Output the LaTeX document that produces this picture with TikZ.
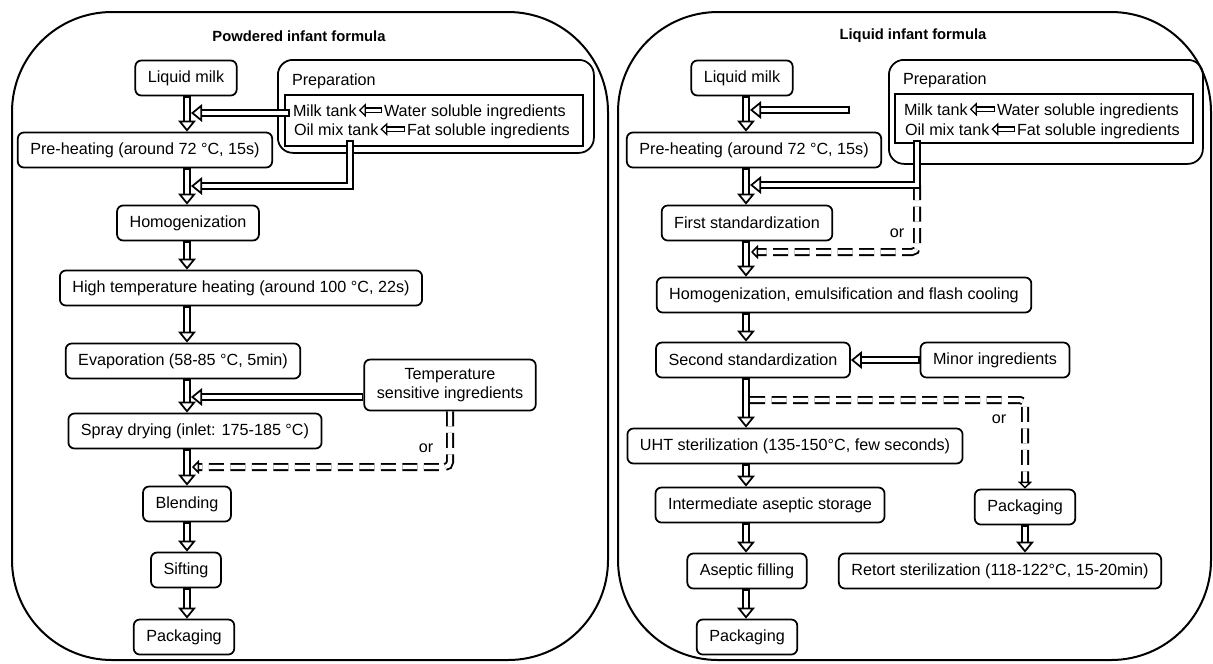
\documentclass[tikz,border=0pt]{standalone}
\usepackage{fontspec}
\setmainfont{Liberation Sans}
\usepackage{tikz}
\usetikzlibrary{arrows.meta,positioning}
\tikzset{
  stepbox/.style={draw, line width=0.35mm, rounded corners=1.2mm, minimum height=7mm, inner xsep=2.5mm},
  prepbox/.style={draw, line width=0.35mm, rounded corners=3mm, anchor=north west},
  mixbox/.style={draw, line width=0.35mm, anchor=north west},
  txt/.style={inner sep=0pt, outer sep=0.4mm},
  title/.style={font=\fontsize{8.4}{10}\selectfont\bfseries},
  panel/.style={line width=0.4mm, rounded corners=2cm},
  flow/.style={draw=white, line width=0.85mm, shorten <=0.35mm,
    -{Triangle[length=2.2mm, width=3.5mm, line width=0.35mm, color=black, fill=white]},
    preaction={draw=black, line width=1.6mm, -, shorten <=0pt, shorten >=1.4mm}},
  dflow/.style={draw=white, line width=0.85mm, dash pattern=on 3mm off 1.3mm, rounded corners=1mm,
    -{Triangle[length=1.4mm, width=2.8mm, line width=0.3mm, color=black, fill=white]},
    preaction={draw=black, line width=1.6mm, dash pattern=on 3mm off 1.3mm, -, shorten >=0.8mm}},
  sflow/.style={draw=white, line width=0.6mm, shorten <=0.3mm,
    -{Triangle[length=1.4mm, width=2.7mm, line width=0.25mm, color=black, fill=white]},
    preaction={draw=black, line width=1.2mm, -, shorten <=0pt, shorten >=0.8mm}}
}
\begin{document}
\begin{tikzpicture}[x=0.2mm, y=-0.2mm, every node/.style={font=\fontsize{9.2}{11}\selectfont}]
    \useasboundingbox (0,0) rectangle (1213,663);
    \draw[panel] (12,12) rectangle (608,660);
    \draw[panel] (618,12) rectangle (1211,660);

    % powdered formula
    \node[title] (tiL) at (299,36) {Powdered infant formula};
    \node[stepbox] (liqL) at (186,78) {Liquid milk};
    \node[stepbox] (preL) at (145,150) {Pre-heating (around 72 °C, 15s)};
    \node[stepbox] (homL) at (188,223) {Homogenization};
    \node[stepbox] (htL) at (241,288) {High temperature heating (around 100 °C, 22s)};
    \node[stepbox] (evL) at (183,361) {Evaporation (58-85 °C, 5min)};
    \node[stepbox, align=center, minimum height=10.2mm] (teL) at (450,385) {Temperature\\sensitive ingredients};
    \node[stepbox] (spL) at (195,431) {Spray drying (inlet: 175-185 °C)};
    \node[stepbox] (blL) at (187,504) {Blending};
    \node[stepbox] (siL) at (186,570) {Sifting};
    \node[stepbox] (paL) at (184,637) {Packaging};
    \node[prepbox, minimum width=63.2mm, minimum height=18.6mm] (prL) at (277,59) {};
    \node[mixbox, minimum width=59.6mm, minimum height=10.2mm] (mxL) at (284,94) {};
    \node[txt, anchor=base west] (phL) at (290,85) {Preparation};
    \node[txt, anchor=base west] (mtL) at (291,116) {Milk tank};
    \node[txt, anchor=base west] (wsL) at (382,116) {Water soluble ingredients};
    \node[txt, anchor=base west] (otL) at (292,135) {Oil mix tank};
    \node[txt, anchor=base west] (fsL) at (405,135) {Fat soluble ingredients};
    \node (orL) at (426,448) {or};

    \coordinate (colL) at (187,0);
    \coordinate (feL) at (290,113);
    \coordinate (oiL) at (350,140);
    \coordinate (jL1) at (191,113);
    \coordinate (jL2) at (191,186);
    \coordinate (jL3) at (191,397);
    \coordinate (jL4) at (192,467);
    \foreach \a/\b in {liqL/preL,preL/homL,homL/htL,htL/evL,evL/spL,spL/blL,blL/siL,siL/paL}
        \draw[flow] (colL |- \a.south) -- (colL |- \b.north);
    \draw[sflow] (wsL.west |- mtL) -- (mtL.east);
    \draw[sflow] (fsL.west |- otL) -- (otL.east);
    \draw[flow] (feL) -- (jL1);
    \draw[flow] (oiL) |- (jL2);
    \draw[flow] (teL.west |- jL3) -- (jL3);
    \draw[dflow] (teL.south) |- (jL4);

    % liquid formula
    \node[title] (tiR) at (913,36) {Liquid infant formula};
    \node[stepbox] (liqR) at (742,78) {Liquid milk};
    \node[stepbox] (preR) at (754,150) {Pre-heating (around 72 °C, 15s)};
    \node[stepbox] (fsR) at (747,223) {First standardization};
    \node[stepbox] (hoR) at (844,295) {Homogenization, emulsification and flash cooling};
    \node[stepbox] (ssR) at (753,360) {Second standardization};
    \node[stepbox] (miR) at (995,360) {Minor ingredients};
    \node[stepbox] (uhR) at (795,446) {UHT sterilization (135-150°C, few seconds)};
    \node[stepbox] (isR) at (770,505) {Intermediate aseptic storage};
    \node[stepbox] (pkR) at (1025,507) {Packaging};
    \node[stepbox] (afR) at (747,571) {Aseptic filling};
    \node[stepbox] (reR) at (1000,571) {Retort sterilization (118-122°C, 15-20min)};
    \node[stepbox] (paR) at (747,637) {Packaging};
    \node[prepbox, minimum width=62.8mm, minimum height=20.8mm] (prR) at (888,59) {};
    \node[mixbox, minimum width=59.6mm, minimum height=9.8mm] (mxR) at (894,93) {};
    \node[txt, anchor=base west] (phR) at (901,84) {Preparation};
    \node[txt, anchor=base west] (mtR) at (902,115) {Milk tank};
    \node[txt, anchor=base west] (wsR) at (995,115) {Water soluble ingredients};
    \node[txt, anchor=base west] (otR) at (903,135) {Oil mix tank};
    \node[txt, anchor=base west] (fsR2) at (1015,135) {Fat soluble ingredients};
    \node (orR1) at (897,233) {or};
    \node (orR2) at (999,419) {or};

    \coordinate (colR) at (746,0);
    \coordinate (frR) at (850,110);
    \coordinate (oiR) at (917,140);
    \coordinate (jR1) at (750,110);
    \coordinate (jR2) at (750,185);
    \coordinate (jR3) at (751,252);
    \coordinate (jR4) at (750,400);
    \foreach \a/\b in {liqR/preR,preR/fsR,fsR/hoR,hoR/ssR,ssR/uhR,uhR/isR,isR/afR,afR/paR}
        \draw[flow] (colR |- \a.south) -- (colR |- \b.north);
    \draw[sflow] (wsR.west |- mtR) -- (mtR.east);
    \draw[sflow] (fsR2.west |- otR) -- (otR.east);
    \draw[flow] (frR) -- (jR1);
    \draw[dflow] (oiR |- jR2) |- (jR3);
    \draw[flow] (oiR) |- (jR2);
    \draw[flow] (miR.west) -- (ssR.east);
    \draw[dflow] (jR4) -| (pkR.north);
    \draw[flow] (pkR.south) -- (pkR.south |- reR.north);
\end{tikzpicture}
\end{document}
